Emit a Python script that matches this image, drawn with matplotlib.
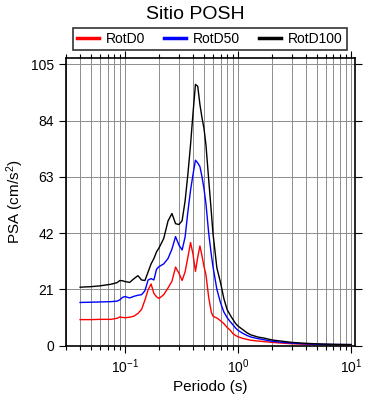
import numpy as np
import matplotlib
matplotlib.use("Agg")
import matplotlib.pyplot as plt

plt.rcParams["font.family"] = ["Liberation Sans", "DejaVu Sans"]
plt.rcParams["mathtext.fontset"] = "custom"
plt.rcParams["mathtext.rm"] = "Liberation Sans"
plt.rcParams["mathtext.it"] = "Liberation Sans:italic"
plt.rcParams["mathtext.bf"] = "Liberation Sans:bold"

station = "Sitio POSH"

periods = [0.04, 0.05, 0.06, 0.075, 0.085, 0.09, 0.095, 0.1, 0.11, 0.12,
           0.13, 0.14, 0.15, 0.16, 0.17, 0.18, 0.19, 0.2, 0.22, 0.24,
           0.26, 0.28, 0.30, 0.32, 0.34, 0.36, 0.38, 0.40, 0.42, 0.44,
           0.46, 0.48, 0.50, 0.52, 0.55, 0.58, 0.60, 0.65, 0.70, 0.75,
           0.80, 0.85, 0.90, 0.95, 1.0, 1.1, 1.2, 1.3, 1.5, 1.7,
           2.0, 2.5, 3.0, 3.5, 4.0, 5.0, 6.0, 7.5, 10.0]

rotd0 = [9.7, 9.7, 9.8, 9.8, 10.2, 10.7, 10.5, 10.4, 10.6, 11.0,
         12.0, 13.5, 17.0, 20.8, 23.0, 19.5, 18.2, 17.6, 19.0, 21.5,
         24.0, 29.3, 27.0, 24.3, 27.5, 33.0, 38.5, 34.0, 27.7, 33.0,
         37.2, 33.5, 29.5, 26.5, 18.0, 12.5, 11.0, 10.3, 9.3, 8.2,
         6.8, 5.8, 4.5, 3.8, 3.3, 2.7, 2.3, 2.0, 1.7, 1.5,
         1.2, 0.9, 0.7, 0.6, 0.5, 0.4, 0.35, 0.3, 0.3]

rotd50 = [16.1, 16.2, 16.3, 16.4, 16.6, 17.1, 18.0, 18.3, 17.8, 18.4,
          18.8, 19.0, 20.5, 24.5, 25.0, 24.5, 28.5, 29.5, 30.5, 32.5,
          36.0, 40.7, 37.5, 35.7, 40.5, 50.0, 58.0, 64.0, 69.2, 68.2,
          66.8, 63.0, 58.5, 53.0, 42.0, 34.0, 29.5, 21.0, 16.0, 12.5,
          10.5, 9.0, 7.8, 6.6, 5.7, 4.6, 3.8, 3.2, 2.6, 2.2,
          1.6, 1.2, 0.9, 0.75, 0.65, 0.5, 0.45, 0.4, 0.35]

rotd100 = [21.8, 22.0, 22.3, 22.9, 23.5, 24.3, 24.2, 23.9, 23.6, 25.0,
           26.1, 24.5, 24.3, 27.5, 30.5, 32.5, 35.0, 36.5, 40.0, 46.5,
           49.3, 45.5, 45.2, 46.6, 54.0, 64.0, 75.0, 87.0, 97.5, 96.8,
           90.0, 85.0, 81.0, 75.0, 62.0, 50.0, 42.0, 29.0, 23.5, 17.5,
           13.5, 11.5, 9.8, 8.3, 7.3, 6.0, 4.8, 4.0, 3.2, 2.8,
           2.1, 1.6, 1.2, 1.0, 0.85, 0.65, 0.55, 0.45, 0.4]

series_names = ["RotD0", "RotD50", "RotD100"]
series_colors = ["#ff0000", "#0000ff", "#000000"]
y_ticks = [0, 21, 42, 63, 84, 105]


def main():
    fig = plt.figure(figsize=(3.9, 4.0), dpi=100)
    ax = fig.add_axes([0.1692, 0.136, 0.741, 0.72])

    for values, name, color in zip([rotd0, rotd50, rotd100], series_names, series_colors):
        ax.plot(periods, values, color=color, lw=1.0, label=name)

    ax.set_xscale("log")
    ax.set_xlim(0.03, 10.85)
    ax.set_ylim(0, 107.5)
    ax.set_yticks(y_ticks)

    ax.grid(True, which="both", axis="x", color="#8c8c8c", lw=0.7)
    ax.grid(True, which="major", axis="y", color="#8c8c8c", lw=0.7)
    ax.set_axisbelow(True)

    ax.tick_params(which="both", direction="out", top=True, right=True,
                   labelsize=10, width=0.8, color="black")
    ax.tick_params(which="major", length=5)
    ax.tick_params(which="minor", length=3)
    for spine in ax.spines.values():
        spine.set_linewidth(1.2)

    ax.set_xlabel("Periodo (s)", fontsize=11, labelpad=3)
    ax.set_ylabel("PSA (cm/s$^2$)", fontsize=11, labelpad=4)

    fig.text(0.5, 0.963, station, ha="center", va="center", fontsize=14)

    leg = fig.legend(loc="center", bbox_to_anchor=(0.538, 0.902), ncol=3,
                     fontsize=10, frameon=True, fancybox=False,
                     handlelength=1.6, handletextpad=0.5, columnspacing=1.35,
                     borderpad=0.3, borderaxespad=0)
    leg.get_frame().set_edgecolor("black")
    leg.get_frame().set_linewidth(1.2)
    for line in leg.get_lines():
        line.set_linewidth(2.5)

    fig.savefig("out.png", dpi=100)


if __name__ == "__main__":
    main()
